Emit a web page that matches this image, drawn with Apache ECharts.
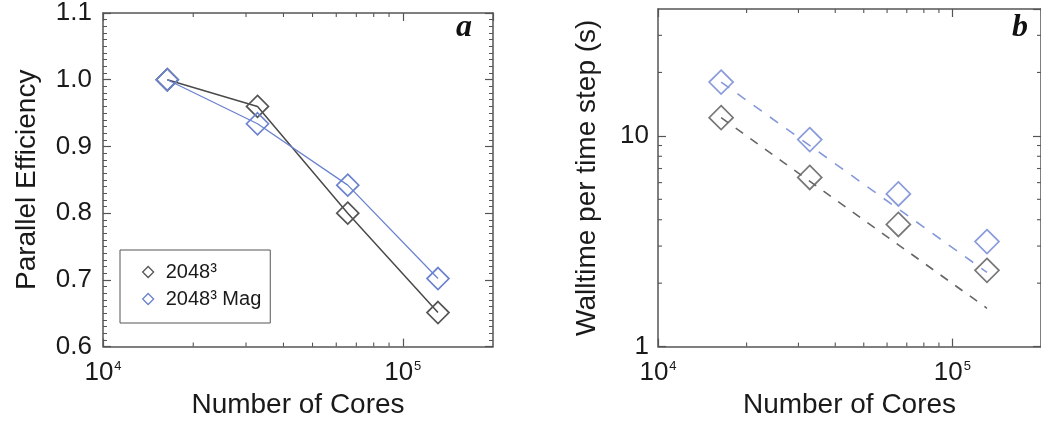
<!DOCTYPE html>
<html><head><meta charset="utf-8">
<script src="https://cdn.jsdelivr.net/npm/echarts@6/dist/echarts.min.js"></script>
<style>html,body{margin:0;padding:0;background:#fff}#c{width:1041px;height:424px}</style>
</head><body><div id="c"></div>
<script>
// ---- data ----
const cores = [16384, 32768, 65536, 131072];
const effBase = [1.0, 0.96, 0.80, 0.651];
const effMag = [1.0, 0.934, 0.842, 0.702];
const wallBase = [12.2, 6.35, 3.8, 2.3];
const wallMag = [18.0, 9.6, 5.3, 3.15];
const idealCores = [16384, 131072];
const idealBase = [12.2, 1.52];
const idealMag = [18.0, 2.25];
const seriesNames = ['2048³', '2048³ Mag'];
const xMinorTicks = [20000, 30000, 40000, 50000, 60000, 70000, 80000, 90000];
const yMinorTicksB = [2, 3, 4, 5, 6, 7, 8, 9, 20, 30];
const panelLabels = ['a', 'b'];
const xName = 'Number of Cores';
const yNameA = 'Parallel Efficiency';
const yNameB = 'Walltime per time step (s)';

// ---- style ----
const FONT = "'Liberation Sans', Arial, Helvetica, sans-serif";
const AX = '#555';
const BLACK = '#555';
const BLUE = '#6b82cf';
const TXT = '#1a1a1a';

const chart = echarts.init(document.getElementById('c'), null, {renderer: 'canvas'});

function supFmt(v) {
  const e = Math.round(Math.log10(v));
  if (Math.abs(Math.pow(10, e) - v) / v < 1e-6) return '10{sup|' + e + '}';
  return '';
}
function decFmt(v) {
  const e = Math.round(Math.log10(v));
  if (Math.abs(Math.pow(10, e) - v) / v < 1e-6) return String(Math.pow(10, e));
  return '';
}
const axisLine = {show: true, onZero: false, lineStyle: {color: AX, width: 1.5}};
const axisTick = {show: true, inside: true, length: 8, lineStyle: {color: AX, width: 1.2}};
const labelStyle = {fontFamily: FONT, fontSize: 26, color: TXT};
const nameStyle = {fontFamily: FONT, fontSize: 28, color: TXT};

function xAxes(gridIndex) {
  return [
    {type: 'log', gridIndex, min: 10000, max: 200000, position: 'bottom',
     axisLine, axisTick, splitLine: {show: false},
     axisLabel: Object.assign({margin: 13, formatter: supFmt, showMaxLabel: false,
       rich: {sup: {fontFamily: FONT, fontSize: 13, color: TXT, verticalAlign: 'top', padding: [0, 0, 14, 1]}}}, labelStyle),
     name: xName, nameLocation: 'middle', nameGap: 43, nameTextStyle: nameStyle},
    {type: 'log', gridIndex, min: 10000, max: 200000, position: 'top',
     axisLine, axisTick, splitLine: {show: false}, axisLabel: {show: false}}
  ];
}

function minorTickSeries(xi, yi, values, yRef, dir) {
  return {
    type: 'custom', xAxisIndex: xi, yAxisIndex: yi, silent: true, clip: false, z: 5,
    data: values.map(v => dir === 'x' ? [v, yRef] : [yRef, v]),
    renderItem: function (params, api) {
      const cs = params.coordSys;
      const p = api.coord([api.value(0), api.value(1)]);
      const len = 4;
      const st = {stroke: AX, lineWidth: 1.1};
      if (dir === 'x') {
        const x = p[0];
        return {type: 'group', children: [
          {type: 'line', shape: {x1: x, y1: cs.y + cs.height, x2: x, y2: cs.y + cs.height - len}, style: st},
          {type: 'line', shape: {x1: x, y1: cs.y, x2: x, y2: cs.y + len}, style: st}
        ]};
      } else {
        const y = p[1];
        return {type: 'group', children: [
          {type: 'line', shape: {x1: cs.x, y1: y, x2: cs.x + len, y2: y}, style: st},
          {type: 'line', shape: {x1: cs.x + cs.width, y1: y, x2: cs.x + cs.width - len, y2: y}, style: st}
        ]};
      }
    }
  };
}

const hollow = (c) => ({color: 'rgba(0,0,0,0)', borderColor: c, borderWidth: 1.7});

const option = {
  animation: false,
  backgroundColor: '#fff',
  grid: [
    {left: 103, top: 9, width: 390, height: 341},
    {left: 658, top: 9, width: 390, height: 341}
  ],
  xAxis: [...xAxes(0), ...xAxes(1)],
  yAxis: [
    {type: 'value', gridIndex: 0, min: 0.6, max: 1.1, interval: 0.1, position: 'left',
     axisLine, axisTick, splitLine: {show: false},
     minorTick: {show: true, splitNumber: 10, length: 4, lineStyle: {color: AX, width: 1}},
     axisLabel: Object.assign({margin: 11, formatter: v => v.toFixed(1)}, labelStyle),
     name: yNameA, nameLocation: 'middle', nameRotate: 90, nameGap: 62, nameTextStyle: nameStyle},
    {type: 'value', gridIndex: 0, min: 0.6, max: 1.1, interval: 0.1, position: 'right',
     axisLine, axisTick, splitLine: {show: false},
     minorTick: {show: true, splitNumber: 10, length: 4, lineStyle: {color: AX, width: 1}},
     axisLabel: {show: false}},
    {type: 'log', gridIndex: 1, min: 1, max: 40, position: 'left',
     axisLine, axisTick, splitLine: {show: false},
     axisLabel: Object.assign({margin: 9, formatter: decFmt, showMaxLabel: false}, labelStyle),
     name: yNameB, nameLocation: 'middle', nameRotate: 90, nameGap: 57, nameTextStyle: nameStyle},
    {type: 'log', gridIndex: 1, min: 1, max: 40, position: 'right',
     axisLine, axisTick, splitLine: {show: false}, axisLabel: {show: false}}
  ],
  legend: {
    data: [
      {name: seriesNames[0], icon: 'diamond', itemStyle: {color: '#fff', borderColor: BLACK, borderWidth: 1.3}},
      {name: seriesNames[1], icon: 'diamond', itemStyle: {color: '#fff', borderColor: BLUE, borderWidth: 1.3}}
    ],
    left: 120, top: 250, orient: 'vertical', selectedMode: false,
    borderColor: AX, borderWidth: 1, padding: [12, 9, 14, 22],
    itemGap: 7, itemWidth: 11, itemHeight: 11,
    textStyle: {fontFamily: FONT, fontSize: 20, color: TXT, padding: [0, 0, 0, 7]}
  },
  graphic: [
    {type: 'text', left: 456, top: 12, style: {text: panelLabels[0], font: 'italic bold 32px "Liberation Serif", "Times New Roman", serif', fill: '#111'}},
    {type: 'text', left: 1012, top: 12, style: {text: panelLabels[1], font: 'italic bold 32px "Liberation Serif", "Times New Roman", serif', fill: '#111'}}
  ],
  series: [
    {type: 'line', name: seriesNames[0], xAxisIndex: 0, yAxisIndex: 0,
     data: cores.map((c, i) => [c, effBase[i]]),
     symbol: 'diamond', symbolSize: 22, lineStyle: {color: '#4a4a4a', width: 1.5},
     itemStyle: hollow(BLACK), emphasis: {disabled: true}, z: 3},
    {type: 'line', name: seriesNames[1], xAxisIndex: 0, yAxisIndex: 0,
     data: cores.map((c, i) => [c, effMag[i]]),
     symbol: 'diamond', symbolSize: 22, lineStyle: {color: BLUE, width: 1.3},
     itemStyle: hollow(BLUE), emphasis: {disabled: true}, z: 3},
    {type: 'line', xAxisIndex: 2, yAxisIndex: 2,
     data: idealCores.map((c, i) => [c, idealBase[i]]),
     symbol: 'none', lineStyle: {color: '#666', width: 1.6, type: [9, 9]}, emphasis: {disabled: true}},
    {type: 'line', xAxisIndex: 2, yAxisIndex: 2,
     data: idealCores.map((c, i) => [c, idealMag[i]]),
     symbol: 'none', lineStyle: {color: '#8599da', width: 1.6, type: [10, 10]}, emphasis: {disabled: true}},
    {type: 'scatter', name: seriesNames[0], xAxisIndex: 2, yAxisIndex: 2,
     data: cores.map((c, i) => [c, wallBase[i]]),
     symbol: 'diamond', symbolSize: 24, itemStyle: hollow(BLACK), emphasis: {disabled: true}},
    {type: 'scatter', name: seriesNames[1], xAxisIndex: 2, yAxisIndex: 2,
     data: cores.map((c, i) => [c, wallMag[i]]),
     symbol: 'diamond', symbolSize: 24, itemStyle: hollow(BLUE), emphasis: {disabled: true}},
    minorTickSeries(0, 0, xMinorTicks, 0.8, 'x'),
    minorTickSeries(2, 2, xMinorTicks, 5, 'x'),
    minorTickSeries(2, 2, yMinorTicksB, 50000, 'y')
  ]
};
chart.setOption(option);
</script>
</body></html>
